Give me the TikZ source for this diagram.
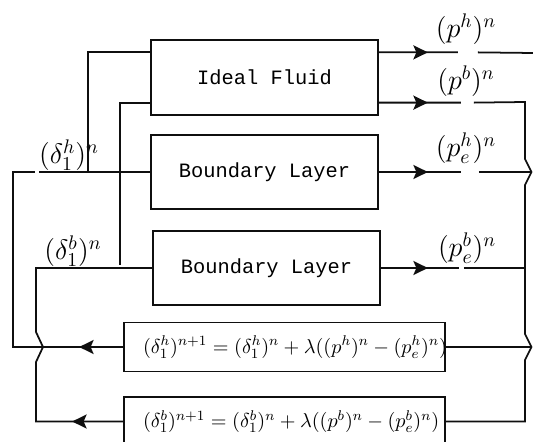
\RequirePackage{fix-cm}
\documentclass[tikz,border=0pt]{standalone}
\usepackage{fontspec}
\setmonofont{Liberation Mono}
\usetikzlibrary{arrows.meta,positioning,calc,decorations.markings}
\definecolor{ink}{RGB}{15,15,15}
\tikzset{
  >={Stealth[length=2.9mm,width=2.8mm,inset=0.6mm]},
  solver/.style={draw=ink,line width=1pt,minimum width=4.54cm,minimum height=1.49cm,
    font=\fontsize{11.6}{14}\selectfont\ttfamily},
  update/.style={draw=ink,line width=1pt,minimum width=6.42cm,minimum height=0.98cm,
    inner xsep=0.38cm,font=\fontsize{11.5}{13}\selectfont},
  val/.style={font=\fontsize{16}{18}\selectfont,inner sep=0pt},
  wire/.style={draw=ink,line width=1pt},
  arrow at/.style={postaction={decorate},
    decoration={markings,mark=at position #1 with {\arrow{>}}}},
}

\begin{document}
\begin{tikzpicture}
  \useasboundingbox (0,0) rectangle (10.66,-8.84);
  % solvers
  \node[solver] (fluid) at (5.29,-1.55) {Ideal Fluid};
  \node[solver] (layerh) at (5.29,-3.44) {Boundary Layer};
  \node[solver] (layerb) at (5.33,-5.36) {Boundary Layer};
  % relaxation updates
  \node[update] (updh) at (5.69,-6.94)
    {\makebox[5.66cm][l]{$(\delta_1^h)^{n+1}=(\delta_1^h)^n+\lambda((p^h)^n-(p_e^h)^n)$}};
  \node[update] (updb) at (5.69,-8.43)
    {\makebox[5.66cm][l]{$(\delta_1^b)^{n+1}=(\delta_1^b)^n+\lambda((p^b)^n-(p_e^b)^n)$}};
  % exchanged values
  \node[val] (ph) at (9.32,-0.58) {$(p^h)^n$};
  \node[val] (pb) at (9.32,-1.62) {$(p^b)^n$};
  \node[val] (peh) at (9.32,-2.96) {$(p_e^h)^n$};
  \node[val] (peb) at (9.34,-4.96) {$(p_e^b)^n$};
  \node[val] (dh) at (1.38,-3.1) {$(\delta_1^h)^n$};
  \node[val] (db) at (1.46,-5.02) {$(\delta_1^b)^n$};
  \coordinate (phend) at (10.66,-1.06);
  \coordinate (bustop) at (10.5,-2.04);
  \coordinate (kinkh) at (10.63,-3.44);
  \coordinate (kinku) at (10.63,-6.94);
  \coordinate (tapH) at (1.76,-3.44);
  \coordinate (tapB) at (2.4,-5.3);
  \coordinate (loopH) at (0.26,-3.44);
  % pressures to the right
  \draw[wire,arrow at=0.98cm] ([yshift=-0.26cm]fluid.north east) -- ++(1.58,0) ++(0.4,0) -- (phend);
  \draw[wire,arrow at=0.98cm] ([yshift=0.26cm]fluid.south east) -- ++(1.64,0) ++(0.26,0) -- (bustop)
    -- (10.5,-3.18) -- (kinkh) -- (10.5,-3.7) -- (10.5,-6.68) -- (kinku) -- (10.5,-7.2)
    -- (updb.east -| bustop) -- (updb.east);
  \draw[wire,arrow at=0.98cm] (layerh.east) -- ++(1.64,0) ++(0.36,0) -- (kinkh);
  \draw[wire,arrow at=0.94cm] (layerb.east) -- ++(1.56,0) ++(0.1,0) -- (layerb.east -| bustop);
  \draw[wire] (updh.east) -- (kinku);
  % displacement thickness back to the left
  \draw[wire] ([yshift=-0.26cm]fluid.north west) -| (tapH);
  \draw[wire] ([yshift=0.26cm]fluid.south west) -| (tapB);
  \draw[wire,arrow at=0.88cm] (updh.west) -| (loopH) -- ++(0.44,0) ++(0.08,0) -- (layerh.west);
  \draw[wire,arrow at=1.02cm] (updb.west) -| (0.72,-7.24) -- (0.86,-6.94) -- (0.72,-6.64) |- (layerb.west);
\end{tikzpicture}
\end{document}
